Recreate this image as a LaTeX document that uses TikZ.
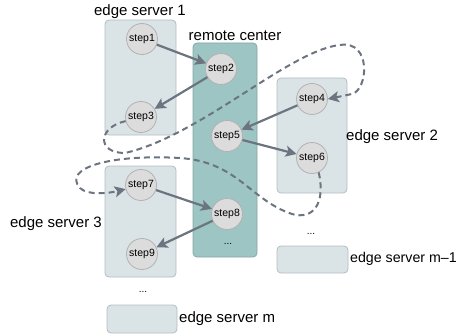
\documentclass[tikz,border=0pt]{standalone}
\usepackage{fontspec}
\setmainfont{Liberation Sans}
\usetikzlibrary{arrows.meta}

\definecolor{serverfill}{HTML}{DAE4E7}
\definecolor{serverline}{HTML}{B4BCC0}
\definecolor{hubfill}{HTML}{9CC5C3}
\definecolor{hubline}{HTML}{86A8A6}
\definecolor{stepfill}{HTML}{DCDCDC}
\definecolor{stepline}{HTML}{B2B2B2}
\definecolor{flowgray}{HTML}{6C7480}

\begin{document}
\begin{tikzpicture}[x=1pt, y=-1pt,
            server/.style={draw=serverline, fill=serverfill, rounded corners=4pt, line width=0.8pt, inner sep=0pt},
            hub/.style={draw=hubline, fill=hubfill, rounded corners=4pt, line width=0.8pt, inner sep=0pt},
            stepnode/.style={circle, draw=stepline, fill=stepfill, line width=0.8pt, minimum size=31pt, inner sep=0pt, font=\fontsize{10.5}{12}\selectfont},
            tag/.style={font=\fontsize{15}{17}\selectfont, inner sep=1pt},
            dots/.style={font=\fontsize{10}{12}\selectfont, inner sep=0pt},
            arrow/.style={-{Stealth[length=11pt, width=11pt, inset=2.5pt]}, line width=2.2pt, draw=flowgray},
            trace/.style={-{Stealth[length=11pt, width=11pt, inset=2.5pt]}, dash pattern=on 6pt off 4pt, line width=2pt, draw=flowgray}
        ]
        \useasboundingbox (0,0) rectangle (462,334);
        % servers
        \node[server, minimum width=71pt, minimum height=115pt] (es1) at (140.5,77.5) {};
        \node[hub, minimum width=64pt, minimum height=214pt] (rc) at (225,150) {};
        \node[server, minimum width=70pt, minimum height=115pt] (es2) at (312,135.5) {};
        \node[server, minimum width=71pt, minimum height=111pt] (es3) at (140.5,221.5) {};
        \node[server, minimum width=71pt, minimum height=27pt] (esm1) at (312.5,259.5) {};
        \node[server, minimum width=70pt, minimum height=28pt] (esm) at (142,319) {};
        % labels
        \node[tag] (es1lbl) at (140,12) {edge server 1};
        \node[tag] (rclbl) at (235,36) {remote center};
        \node[tag, anchor=west] (es2lbl) at (345,137) {edge server 2};
        \node[tag, anchor=east] (es3lbl) at (103,224) {edge server 3};
        \node[tag, anchor=west, font=\fontsize{14.2}{17}\selectfont, inner sep=0pt] (esm1lbl) at (350,259) {edge server m–1};
        \node[tag, anchor=west] (esmlbl) at (178,319) {edge server m};
        \node[dots] (dots1) at (228,244) {...};
        \node[dots] (dots2) at (311,234) {...};
        \node[dots] (dots3) at (143,292) {...};
        % steps
        \node[stepnode] (s1) at (142,39) {step1};
        \node[stepnode] (s2) at (221,69) {step2};
        \node[stepnode] (s3) at (141,117) {step3};
        \node[stepnode] (s4) at (312,99) {step4};
        \node[stepnode] (s5) at (227,136) {step5};
        \node[stepnode] (s6) at (312,158) {step6};
        \node[stepnode] (s7) at (141,185) {step7};
        \node[stepnode] (s8) at (227,214) {step8};
        \node[stepnode] (s9) at (142,254) {step9};
        \draw[arrow] (s1) -- (s2);
        \draw[arrow] (s2) -- (s3);
        \draw[arrow] (s4) -- (s5);
        \draw[arrow] (s5) -- (s6);
        \draw[arrow] (s7) -- (s8);
        \draw[arrow] (s8) -- (s9);
        % handovers between servers
        \draw[trace] (s3.195) .. controls (98,127) and (96,153) .. (125,153)
            .. controls (200,136) and (290,50) .. (340,45)
            .. controls (372,40) and (368,90) .. (352,94) -- (s4.east);
        \draw[trace] (s6.-65) .. controls (326,205) and (312,220) .. (292,214)
            .. controls (250,200) and (238,162) .. (180,158)
            .. controls (110,154) and (62,168) .. (80,188)
            .. controls (88,196) and (110,193) .. (s7.195);
\end{tikzpicture}
\end{document}
